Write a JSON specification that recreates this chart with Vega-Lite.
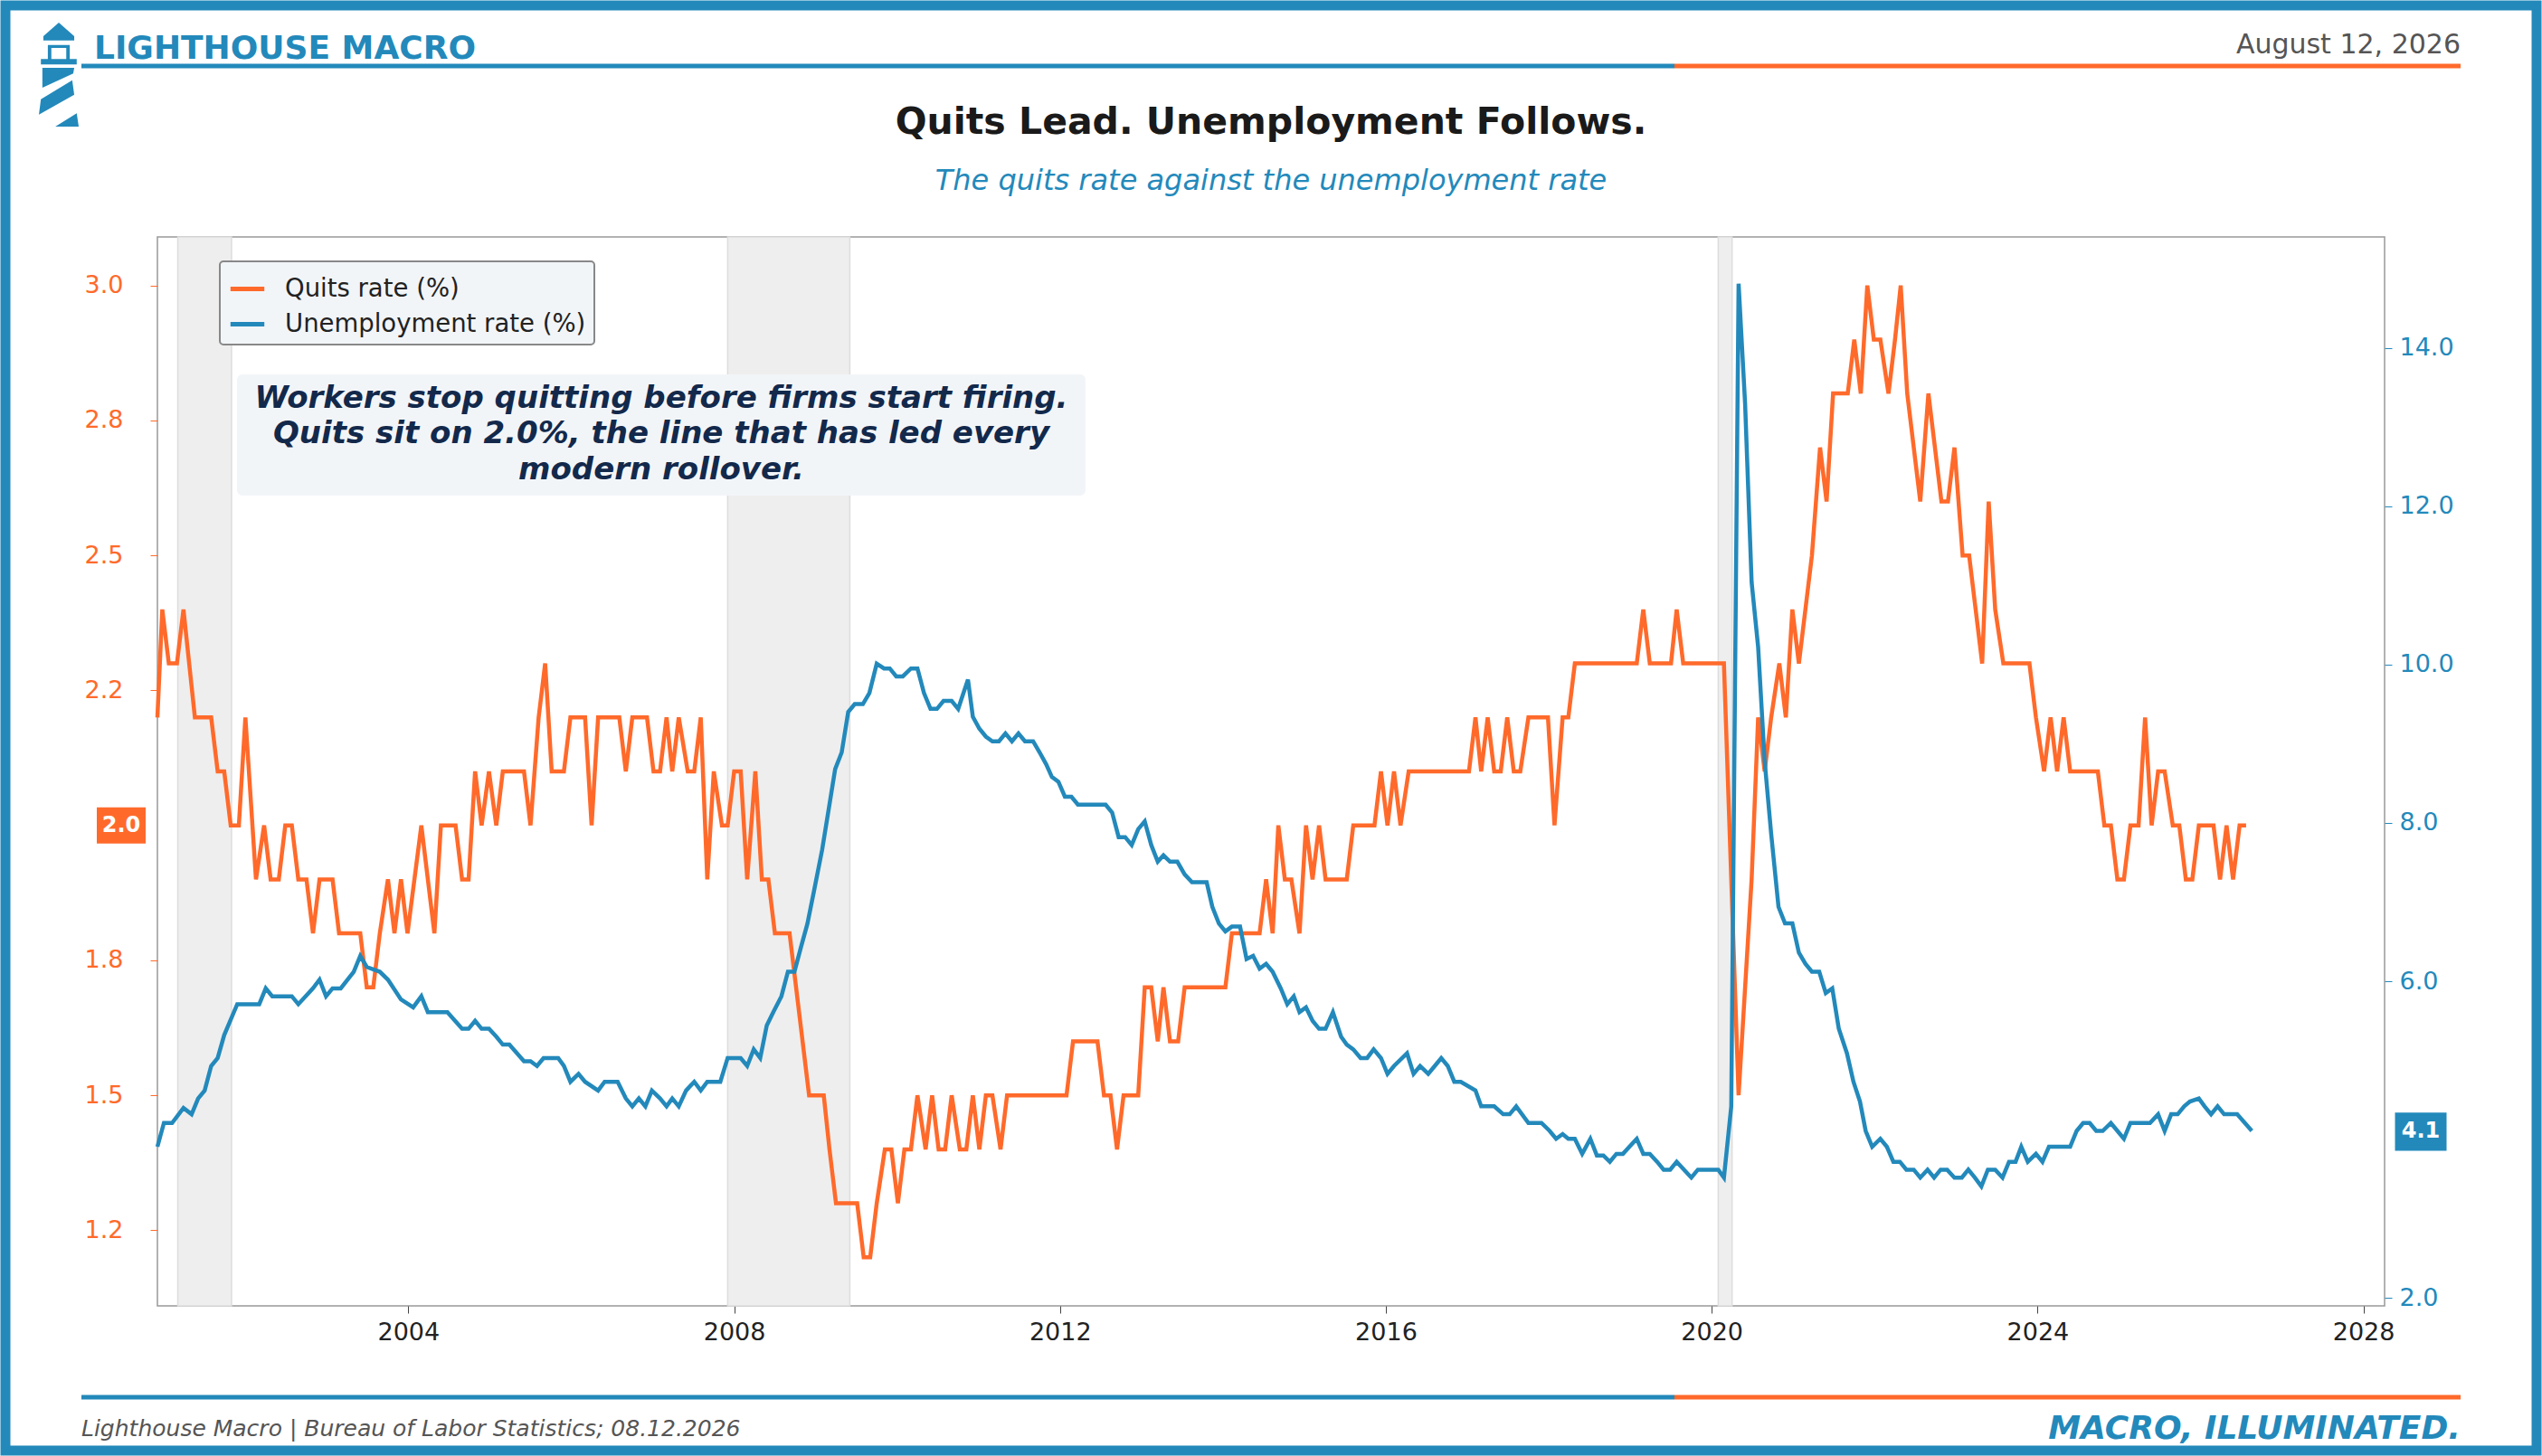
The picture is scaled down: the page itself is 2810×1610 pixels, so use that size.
{
  "$schema": "https://vega.github.io/schema/vega-lite/v6.json",
  "width": 2462,
  "height": 1182,
  "autosize": {"type": "none"},
  "padding": {"left": 174, "top": 262, "right": 174, "bottom": 166},
  "background": "white",
  "config": {
    "font": "DejaVu Sans",
    "view": {"stroke": "#999999", "strokeWidth": 1.5},
    "axis": {"grid": false, "domain": false, "labelFontSize": 27, "tickSize": 8, "labelPadding": 8},
    "legend": {
      "orient": "none", "legendX": 69, "legendY": 27, "fillColor": "#f2f5f8", "strokeColor": "#888888", "strokeWidth": 2,
      "padding": 9, "cornerRadius": 4, "labelFontSize": 27.5, "labelColor": "#222222", "labelLimit": 0, "labelOffset": 20,
      "symbolType": "stroke", "symbolStrokeWidth": 5, "symbolSize": 1400, "rowPadding": 4, "title": null
    }
  },
  "datasets": {
    "quits": [
      {"t":2000.92,"q":2.2},{"t":2000.98,"q":2.4},{"t":2001.06,"q":2.3},{"t":2001.16,"q":2.3},{"t":2001.24,"q":2.4},{"t":2001.38,"q":2.2},{"t":2001.58,"q":2.2},{"t":2001.66,"q":2.1},{"t":2001.74,"q":2.1},{"t":2001.82,"q":2.0},{"t":2001.92,"q":2.0},{"t":2002.00,"q":2.2},{"t":2002.13,"q":1.9},{"t":2002.23,"q":2.0},{"t":2002.31,"q":1.9},{"t":2002.41,"q":1.9},{"t":2002.49,"q":2.0},{"t":2002.57,"q":2.0},{"t":2002.65,"q":1.9},{"t":2002.75,"q":1.9},{"t":2002.83,"q":1.8},{"t":2002.91,"q":1.9},{"t":2003.07,"q":1.9},{"t":2003.15,"q":1.8},{"t":2003.41,"q":1.8},{"t":2003.49,"q":1.7},{"t":2003.57,"q":1.7},{"t":2003.65,"q":1.8},{"t":2003.75,"q":1.9},{"t":2003.83,"q":1.8},{"t":2003.91,"q":1.9},{"t":2003.99,"q":1.8},{"t":2004.16,"q":2.0},{"t":2004.32,"q":1.8},{"t":2004.40,"q":2.0},{"t":2004.58,"q":2.0},{"t":2004.66,"q":1.9},{"t":2004.74,"q":1.9},{"t":2004.82,"q":2.1},{"t":2004.90,"q":2.0},{"t":2004.99,"q":2.1},{"t":2005.08,"q":2.0},{"t":2005.16,"q":2.1},{"t":2005.42,"q":2.1},{"t":2005.50,"q":2.0},{"t":2005.60,"q":2.2},{"t":2005.68,"q":2.3},{"t":2005.76,"q":2.1},{"t":2005.91,"q":2.1},{"t":2005.99,"q":2.2},{"t":2006.17,"q":2.2},{"t":2006.25,"q":2.0},{"t":2006.33,"q":2.2},{"t":2006.59,"q":2.2},{"t":2006.67,"q":2.1},{"t":2006.75,"q":2.2},{"t":2006.93,"q":2.2},{"t":2007.01,"q":2.1},{"t":2007.09,"q":2.1},{"t":2007.17,"q":2.2},{"t":2007.24,"q":2.1},{"t":2007.32,"q":2.2},{"t":2007.43,"q":2.1},{"t":2007.51,"q":2.1},{"t":2007.59,"q":2.2},{"t":2007.67,"q":1.9},{"t":2007.75,"q":2.1},{"t":2007.85,"q":2.0},{"t":2007.92,"q":2.0},{"t":2008.00,"q":2.1},{"t":2008.08,"q":2.1},{"t":2008.16,"q":1.9},{"t":2008.26,"q":2.1},{"t":2008.34,"q":1.9},{"t":2008.42,"q":1.9},{"t":2008.50,"q":1.8},{"t":2008.68,"q":1.8},{"t":2008.76,"q":1.7},{"t":2008.84,"q":1.6},{"t":2008.92,"q":1.5},{"t":2009.10,"q":1.5},{"t":2009.17,"q":1.4},{"t":2009.25,"q":1.3},{"t":2009.51,"q":1.3},{"t":2009.59,"q":1.2},{"t":2009.67,"q":1.2},{"t":2009.75,"q":1.3},{"t":2009.85,"q":1.4},{"t":2009.93,"q":1.4},{"t":2010.01,"q":1.3},{"t":2010.09,"q":1.4},{"t":2010.17,"q":1.4},{"t":2010.25,"q":1.5},{"t":2010.35,"q":1.4},{"t":2010.43,"q":1.5},{"t":2010.51,"q":1.4},{"t":2010.59,"q":1.4},{"t":2010.67,"q":1.5},{"t":2010.77,"q":1.4},{"t":2010.85,"q":1.4},{"t":2010.93,"q":1.5},{"t":2011.01,"q":1.4},{"t":2011.09,"q":1.5},{"t":2011.17,"q":1.5},{"t":2011.27,"q":1.4},{"t":2011.35,"q":1.5},{"t":2012.08,"q":1.5},{"t":2012.16,"q":1.6},{"t":2012.46,"q":1.6},{"t":2012.54,"q":1.5},{"t":2012.62,"q":1.5},{"t":2012.70,"q":1.4},{"t":2012.78,"q":1.5},{"t":2012.96,"q":1.5},{"t":2013.04,"q":1.7},{"t":2013.12,"q":1.7},{"t":2013.20,"q":1.6},{"t":2013.27,"q":1.7},{"t":2013.35,"q":1.6},{"t":2013.45,"q":1.6},{"t":2013.53,"q":1.7},{"t":2014.03,"q":1.7},{"t":2014.11,"q":1.8},{"t":2014.45,"q":1.8},{"t":2014.53,"q":1.9},{"t":2014.61,"q":1.8},{"t":2014.68,"q":2.0},{"t":2014.76,"q":1.9},{"t":2014.84,"q":1.9},{"t":2014.94,"q":1.8},{"t":2015.02,"q":2.0},{"t":2015.10,"q":1.9},{"t":2015.18,"q":2.0},{"t":2015.26,"q":1.9},{"t":2015.52,"q":1.9},{"t":2015.60,"q":2.0},{"t":2015.86,"q":2.0},{"t":2015.94,"q":2.1},{"t":2016.02,"q":2.0},{"t":2016.10,"q":2.1},{"t":2016.18,"q":2.0},{"t":2016.28,"q":2.1},{"t":2017.02,"q":2.1},{"t":2017.10,"q":2.2},{"t":2017.17,"q":2.1},{"t":2017.25,"q":2.2},{"t":2017.33,"q":2.1},{"t":2017.41,"q":2.1},{"t":2017.49,"q":2.2},{"t":2017.57,"q":2.1},{"t":2017.65,"q":2.1},{"t":2017.75,"q":2.2},{"t":2017.99,"q":2.2},{"t":2018.07,"q":2.0},{"t":2018.17,"q":2.2},{"t":2018.24,"q":2.2},{"t":2018.32,"q":2.3},{"t":2019.08,"q":2.3},{"t":2019.16,"q":2.4},{"t":2019.24,"q":2.3},{"t":2019.50,"q":2.3},{"t":2019.57,"q":2.4},{"t":2019.65,"q":2.3},{"t":2020.15,"q":2.3},{"t":2020.33,"q":1.5},{"t":2020.41,"q":1.7},{"t":2020.49,"q":1.9},{"t":2020.57,"q":2.2},{"t":2020.65,"q":2.1},{"t":2020.73,"q":2.2},{"t":2020.83,"q":2.3},{"t":2020.91,"q":2.2},{"t":2020.99,"q":2.4},{"t":2021.07,"q":2.3},{"t":2021.15,"q":2.4},{"t":2021.23,"q":2.5},{"t":2021.33,"q":2.7},{"t":2021.41,"q":2.6},{"t":2021.49,"q":2.8},{"t":2021.57,"q":2.8},{"t":2021.67,"q":2.8},{"t":2021.75,"q":2.9},{"t":2021.83,"q":2.8},{"t":2021.91,"q":3.0},{"t":2021.99,"q":2.9},{"t":2022.07,"q":2.9},{"t":2022.17,"q":2.8},{"t":2022.25,"q":2.9},{"t":2022.32,"q":3.0},{"t":2022.40,"q":2.8},{"t":2022.48,"q":2.7},{"t":2022.56,"q":2.6},{"t":2022.66,"q":2.8},{"t":2022.74,"q":2.7},{"t":2022.82,"q":2.6},{"t":2022.90,"q":2.6},{"t":2022.98,"q":2.7},{"t":2023.08,"q":2.5},{"t":2023.16,"q":2.5},{"t":2023.24,"q":2.4},{"t":2023.32,"q":2.3},{"t":2023.40,"q":2.6},{"t":2023.48,"q":2.4},{"t":2023.58,"q":2.3},{"t":2023.90,"q":2.3},{"t":2023.98,"q":2.2},{"t":2024.08,"q":2.1},{"t":2024.16,"q":2.2},{"t":2024.24,"q":2.1},{"t":2024.32,"q":2.2},{"t":2024.40,"q":2.1},{"t":2024.74,"q":2.1},{"t":2024.82,"q":2.0},{"t":2024.90,"q":2.0},{"t":2024.98,"q":1.9},{"t":2025.06,"q":1.9},{"t":2025.14,"q":2.0},{"t":2025.24,"q":2.0},{"t":2025.32,"q":2.2},{"t":2025.40,"q":2.0},{"t":2025.48,"q":2.1},{"t":2025.56,"q":2.1},{"t":2025.66,"q":2.0},{"t":2025.74,"q":2.0},{"t":2025.82,"q":1.9},{"t":2025.90,"q":1.9},{"t":2025.98,"q":2.0},{"t":2026.16,"q":2.0},{"t":2026.24,"q":1.9},{"t":2026.32,"q":2.0},{"t":2026.40,"q":1.9},{"t":2026.48,"q":2.0},{"t":2026.56,"q":2.0}
    ],
    "unemp": [
      {"t":2000.92,"u":3.91},{"t":2001.00,"u":4.21},{"t":2001.10,"u":4.21},{"t":2001.24,"u":4.40},{"t":2001.34,"u":4.32},{"t":2001.42,"u":4.52},{"t":2001.50,"u":4.62},{"t":2001.58,"u":4.93},{"t":2001.66,"u":5.03},{"t":2001.74,"u":5.32},{"t":2001.90,"u":5.71},{"t":2002.17,"u":5.71},{"t":2002.25,"u":5.91},{"t":2002.33,"u":5.81},{"t":2002.57,"u":5.81},{"t":2002.65,"u":5.71},{"t":2002.83,"u":5.91},{"t":2002.91,"u":6.02},{"t":2002.99,"u":5.81},{"t":2003.07,"u":5.91},{"t":2003.17,"u":5.91},{"t":2003.33,"u":6.12},{"t":2003.41,"u":6.32},{"t":2003.49,"u":6.18},{"t":2003.65,"u":6.12},{"t":2003.75,"u":6.02},{"t":2003.91,"u":5.77},{"t":2004.06,"u":5.67},{"t":2004.16,"u":5.81},{"t":2004.24,"u":5.61},{"t":2004.48,"u":5.61},{"t":2004.66,"u":5.40},{"t":2004.74,"u":5.40},{"t":2004.82,"u":5.50},{"t":2004.90,"u":5.40},{"t":2004.99,"u":5.40},{"t":2005.08,"u":5.30},{"t":2005.16,"u":5.20},{"t":2005.24,"u":5.20},{"t":2005.42,"u":4.99},{"t":2005.50,"u":4.99},{"t":2005.58,"u":4.93},{"t":2005.66,"u":5.03},{"t":2005.84,"u":5.03},{"t":2005.91,"u":4.93},{"t":2005.99,"u":4.73},{"t":2006.09,"u":4.83},{"t":2006.17,"u":4.73},{"t":2006.33,"u":4.62},{"t":2006.41,"u":4.73},{"t":2006.57,"u":4.73},{"t":2006.67,"u":4.52},{"t":2006.75,"u":4.42},{"t":2006.83,"u":4.52},{"t":2006.91,"u":4.42},{"t":2006.99,"u":4.62},{"t":2007.09,"u":4.52},{"t":2007.17,"u":4.42},{"t":2007.24,"u":4.52},{"t":2007.32,"u":4.42},{"t":2007.41,"u":4.62},{"t":2007.51,"u":4.73},{"t":2007.59,"u":4.62},{"t":2007.67,"u":4.73},{"t":2007.83,"u":4.73},{"t":2007.92,"u":5.03},{"t":2008.08,"u":5.03},{"t":2008.16,"u":4.93},{"t":2008.24,"u":5.14},{"t":2008.32,"u":5.03},{"t":2008.40,"u":5.44},{"t":2008.48,"u":5.61},{"t":2008.58,"u":5.81},{"t":2008.66,"u":6.12},{"t":2008.74,"u":6.12},{"t":2008.82,"u":6.43},{"t":2008.90,"u":6.73},{"t":2008.98,"u":7.14},{"t":2009.08,"u":7.66},{"t":2009.16,"u":8.17},{"t":2009.24,"u":8.68},{"t":2009.32,"u":8.89},{"t":2009.40,"u":9.40},{"t":2009.48,"u":9.50},{"t":2009.58,"u":9.50},{"t":2009.66,"u":9.64},{"t":2009.75,"u":10.01},{"t":2009.84,"u":9.95},{"t":2009.91,"u":9.95},{"t":2009.99,"u":9.85},{"t":2010.07,"u":9.85},{"t":2010.17,"u":9.95},{"t":2010.25,"u":9.95},{"t":2010.33,"u":9.64},{"t":2010.41,"u":9.44},{"t":2010.49,"u":9.44},{"t":2010.57,"u":9.54},{"t":2010.67,"u":9.54},{"t":2010.75,"u":9.44},{"t":2010.87,"u":9.81},{"t":2010.93,"u":9.34},{"t":2011.01,"u":9.19},{"t":2011.09,"u":9.09},{"t":2011.17,"u":9.03},{"t":2011.25,"u":9.03},{"t":2011.33,"u":9.13},{"t":2011.41,"u":9.03},{"t":2011.49,"u":9.13},{"t":2011.57,"u":9.03},{"t":2011.67,"u":9.03},{"t":2011.75,"u":8.89},{"t":2011.83,"u":8.74},{"t":2011.90,"u":8.58},{"t":2011.98,"u":8.52},{"t":2012.06,"u":8.33},{"t":2012.14,"u":8.33},{"t":2012.22,"u":8.23},{"t":2012.32,"u":8.23},{"t":2012.56,"u":8.23},{"t":2012.64,"u":8.13},{"t":2012.72,"u":7.82},{"t":2012.80,"u":7.82},{"t":2012.88,"u":7.72},{"t":2012.96,"u":7.92},{"t":2013.04,"u":8.02},{"t":2013.12,"u":7.72},{"t":2013.20,"u":7.51},{"t":2013.27,"u":7.59},{"t":2013.35,"u":7.51},{"t":2013.44,"u":7.51},{"t":2013.53,"u":7.35},{"t":2013.62,"u":7.25},{"t":2013.80,"u":7.25},{"t":2013.87,"u":6.94},{"t":2013.95,"u":6.73},{"t":2014.03,"u":6.63},{"t":2014.11,"u":6.69},{"t":2014.21,"u":6.69},{"t":2014.29,"u":6.28},{"t":2014.37,"u":6.32},{"t":2014.45,"u":6.16},{"t":2014.53,"u":6.22},{"t":2014.61,"u":6.12},{"t":2014.71,"u":5.91},{"t":2014.79,"u":5.71},{"t":2014.87,"u":5.81},{"t":2014.94,"u":5.61},{"t":2015.02,"u":5.67},{"t":2015.10,"u":5.50},{"t":2015.18,"u":5.40},{"t":2015.26,"u":5.40},{"t":2015.35,"u":5.61},{"t":2015.45,"u":5.30},{"t":2015.52,"u":5.20},{"t":2015.60,"u":5.14},{"t":2015.69,"u":5.03},{"t":2015.77,"u":5.03},{"t":2015.85,"u":5.14},{"t":2015.94,"u":5.03},{"t":2016.02,"u":4.83},{"t":2016.10,"u":4.93},{"t":2016.26,"u":5.09},{"t":2016.34,"u":4.83},{"t":2016.42,"u":4.93},{"t":2016.52,"u":4.83},{"t":2016.60,"u":4.93},{"t":2016.68,"u":5.03},{"t":2016.76,"u":4.93},{"t":2016.84,"u":4.73},{"t":2016.92,"u":4.73},{"t":2017.10,"u":4.62},{"t":2017.17,"u":4.42},{"t":2017.33,"u":4.42},{"t":2017.44,"u":4.32},{"t":2017.52,"u":4.32},{"t":2017.60,"u":4.42},{"t":2017.75,"u":4.21},{"t":2017.91,"u":4.21},{"t":2018.01,"u":4.11},{"t":2018.09,"u":4.01},{"t":2018.17,"u":4.07},{"t":2018.24,"u":4.01},{"t":2018.32,"u":4.01},{"t":2018.41,"u":3.82},{"t":2018.51,"u":4.01},{"t":2018.59,"u":3.80},{"t":2018.67,"u":3.80},{"t":2018.75,"u":3.72},{"t":2018.83,"u":3.82},{"t":2018.91,"u":3.82},{"t":2018.99,"u":3.91},{"t":2019.08,"u":4.01},{"t":2019.16,"u":3.82},{"t":2019.24,"u":3.82},{"t":2019.33,"u":3.72},{"t":2019.41,"u":3.62},{"t":2019.49,"u":3.62},{"t":2019.57,"u":3.72},{"t":2019.75,"u":3.52},{"t":2019.83,"u":3.62},{"t":2020.08,"u":3.62},{"t":2020.15,"u":3.52},{"t":2020.24,"u":4.42},{"t":2020.33,"u":14.81},{"t":2020.41,"u":13.29},{"t":2020.49,"u":11.04},{"t":2020.57,"u":10.22},{"t":2020.65,"u":8.78},{"t":2020.73,"u":7.86},{"t":2020.82,"u":6.94},{"t":2020.90,"u":6.73},{"t":2020.99,"u":6.73},{"t":2021.07,"u":6.36},{"t":2021.15,"u":6.22},{"t":2021.23,"u":6.12},{"t":2021.32,"u":6.12},{"t":2021.40,"u":5.85},{"t":2021.48,"u":5.91},{"t":2021.56,"u":5.40},{"t":2021.66,"u":5.09},{"t":2021.74,"u":4.73},{"t":2021.82,"u":4.48},{"t":2021.89,"u":4.11},{"t":2021.97,"u":3.91},{"t":2022.07,"u":4.01},{"t":2022.15,"u":3.91},{"t":2022.23,"u":3.72},{"t":2022.31,"u":3.72},{"t":2022.39,"u":3.62},{"t":2022.48,"u":3.62},{"t":2022.56,"u":3.52},{"t":2022.65,"u":3.62},{"t":2022.73,"u":3.52},{"t":2022.81,"u":3.62},{"t":2022.89,"u":3.62},{"t":2022.98,"u":3.52},{"t":2023.07,"u":3.52},{"t":2023.15,"u":3.62},{"t":2023.23,"u":3.52},{"t":2023.31,"u":3.41},{"t":2023.39,"u":3.62},{"t":2023.48,"u":3.62},{"t":2023.57,"u":3.52},{"t":2023.65,"u":3.72},{"t":2023.73,"u":3.72},{"t":2023.80,"u":3.91},{"t":2023.88,"u":3.72},{"t":2023.98,"u":3.82},{"t":2024.06,"u":3.72},{"t":2024.14,"u":3.91},{"t":2024.22,"u":3.91},{"t":2024.40,"u":3.91},{"t":2024.48,"u":4.11},{"t":2024.56,"u":4.21},{"t":2024.64,"u":4.21},{"t":2024.72,"u":4.11},{"t":2024.80,"u":4.11},{"t":2024.90,"u":4.21},{"t":2024.98,"u":4.11},{"t":2025.06,"u":4.01},{"t":2025.14,"u":4.21},{"t":2025.30,"u":4.21},{"t":2025.38,"u":4.21},{"t":2025.48,"u":4.32},{"t":2025.56,"u":4.11},{"t":2025.64,"u":4.32},{"t":2025.72,"u":4.32},{"t":2025.80,"u":4.42},{"t":2025.87,"u":4.48},{"t":2025.98,"u":4.52},{"t":2026.05,"u":4.42},{"t":2026.13,"u":4.32},{"t":2026.21,"u":4.42},{"t":2026.29,"u":4.32},{"t":2026.45,"u":4.32},{"t":2026.63,"u":4.11}
    ],
    "recessions": [
      {"start": 2001.17, "end": 2001.83},
      {"start": 2007.92, "end": 2009.42},
      {"start": 2020.08, "end": 2020.25}
    ]
  },
  "layer": [
    {
      "layer": [
        {
          "data": {"name": "recessions"},
          "mark": {"type": "rect", "fill": "#eeeeee", "stroke": "#dddddd", "strokeWidth": 1.5},
          "encoding": {
            "x": {"field": "start", "type": "quantitative"},
            "x2": {"field": "end"}
          }
        },
        {
          "data": {"name": "quits"},
          "mark": {"type": "line", "strokeWidth": 4.5, "interpolate": "linear"},
          "encoding": {
            "x": {"field": "t", "type": "quantitative", "title": null,
              "scale": {"domain": [2000.92, 2028.26], "nice": false, "zero": false},
              "axis": {"values": [2004, 2008, 2012, 2016, 2020, 2024, 2028], "format": "d", "labelColor": "#222222", "tickColor": "#444444"}},
            "y": {"field": "q", "type": "quantitative", "title": null,
              "scale": {"domain": [1.11, 3.09], "nice": false, "zero": false},
              "axis": {"orient": "left", "values": [1.25, 1.5, 1.75, 2.25, 2.5, 2.75, 3.0],
                "labelExpr": "datum.value == 2.25 ? '2.2' : datum.value == 1.25 ? '1.2' : format(datum.value, '.1f')",
                "labelColor": "#ff6a2b", "tickColor": "#ff6a2b", "labelPadding": 30}},
            "color": {"datum": "Quits rate (%)", "type": "nominal",
              "scale": {"domain": ["Quits rate (%)", "Unemployment rate (%)"], "range": ["#ff6a2b", "#2389bb"]}}
          }
        },
        {
          "data": {"values": [{"v": 2.0, "label": "2.0"}]},
          "layer": [
            {"mark": {"type": "point", "shape": "M-1,-0.74L1,-0.74L1,0.74L-1,0.74Z", "size": 2916, "filled": true, "color": "#ff6a2b", "opacity": 1, "x": -40},
             "encoding": {"y": {"field": "v", "type": "quantitative"}}},
            {"mark": {"type": "text", "color": "white", "fontWeight": "bold", "fontSize": 24, "x": -40},
             "encoding": {"y": {"field": "v", "type": "quantitative"}, "text": {"field": "label"}}}
          ]
        },
        {
          "data": {"values": [{}]},
          "layer": [
            {"mark": {"type": "rect", "fill": "#f2f5f8", "cornerRadius": 6},
             "encoding": {"x": {"value": 88}, "x2": {"value": 1026}, "y": {"value": 152}, "y2": {"value": 286}}},
            {"mark": {"type": "text", "x": 557, "y": 179, "text": "Workers stop quitting before firms start firing.", "fontSize": 34, "fontWeight": "bold", "fontStyle": "italic", "color": "#13294b"}, "encoding": {}},
            {"mark": {"type": "text", "x": 557, "y": 218, "text": "Quits sit on 2.0%, the line that has led every", "fontSize": 34, "fontWeight": "bold", "fontStyle": "italic", "color": "#13294b"}, "encoding": {}},
            {"mark": {"type": "text", "x": 557, "y": 258, "text": "modern rollover.", "fontSize": 34, "fontWeight": "bold", "fontStyle": "italic", "color": "#13294b"}, "encoding": {}},
            {"mark": {"type": "point", "filled": true, "opacity": 1, "color": "#2389bb", "size": 12100,
              "shape": "M-0.31,-0.82L0,-1.09L0.31,-0.82L0.31,-0.73L-0.31,-0.73Z M-0.22,-0.64H-0.15V-0.36H-0.22Z M0.15,-0.64H0.22V-0.36H0.15Z M-0.22,-0.64H0.22V-0.58H-0.22Z M-0.36,-0.36H0.36V-0.25H-0.36Z M-0.33,-0.18L0.31,-0.18L0.29,-0.07L-0.33,0.22Z M-0.36,0.45L0.27,0.07L0.31,0.36L-0.4,0.76Z M-0.07,1.0L0.36,0.73L0.4,1.0Z"},
             "encoding": {"x": {"value": -109}, "y": {"value": -177}}},
            {"mark": {"type": "text", "x": -70, "y": -208, "align": "left", "text": "LIGHTHOUSE MACRO", "fontSize": 36, "fontWeight": "bold", "color": "#2389bb"}, "encoding": {}},
            {"mark": {"type": "text", "x": 2546, "y": -212, "align": "right", "text": "August 12, 2026", "fontSize": 30, "color": "#555555"}, "encoding": {}},
            {"mark": {"type": "text", "x": 1231, "y": -126, "text": "Quits Lead. Unemployment Follows.", "fontSize": 41, "fontWeight": "bold", "color": "#1a1a1a"}, "encoding": {}},
            {"mark": {"type": "text", "x": 1231, "y": -62, "text": "The quits rate against the unemployment rate", "fontSize": 32, "fontStyle": "italic", "color": "#2389bb"}, "encoding": {}},
            {"mark": {"type": "rule", "stroke": "#2389bb", "strokeWidth": 5}, "encoding": {"x": {"value": -84}, "x2": {"value": 1677}, "y": {"value": -189}}},
            {"mark": {"type": "rule", "stroke": "#ff6a2b", "strokeWidth": 5}, "encoding": {"x": {"value": 1677}, "x2": {"value": 2546}, "y": {"value": -189}}},
            {"mark": {"type": "rule", "stroke": "#2389bb", "strokeWidth": 5}, "encoding": {"x": {"value": -84}, "x2": {"value": 1677}, "y": {"value": 1283}}},
            {"mark": {"type": "rule", "stroke": "#ff6a2b", "strokeWidth": 5}, "encoding": {"x": {"value": 1677}, "x2": {"value": 2546}, "y": {"value": 1283}}},
            {"mark": {"type": "text", "x": -84, "y": 1318, "align": "left", "text": "Lighthouse Macro | Bureau of Labor Statistics; 08.12.2026", "fontSize": 25, "fontStyle": "italic", "color": "#555555"}, "encoding": {}},
            {"mark": {"type": "text", "x": 2546, "y": 1318, "align": "right", "text": "MACRO, ILLUMINATED.", "fontSize": 36, "fontWeight": "bold", "fontStyle": "italic", "color": "#2389bb"}, "encoding": {}},
            {"mark": {"type": "rect", "fill": null, "stroke": "#2389bb", "strokeWidth": 11},
             "encoding": {"x": {"value": -168}, "x2": {"value": 2630}, "y": {"value": -256}, "y2": {"value": 1342}}}
          ]
        }
      ]
    },
    {
      "layer": [
        {
          "data": {"name": "unemp"},
          "mark": {"type": "line", "strokeWidth": 4.5},
          "encoding": {
            "x": {"field": "t", "type": "quantitative"},
            "y": {"field": "u", "type": "quantitative", "title": null,
              "scale": {"domain": [1.9, 15.4], "nice": false, "zero": false},
              "axis": {"orient": "right", "values": [2, 6, 8, 10, 12, 14], "format": ".1f", "labelColor": "#2389bb", "tickColor": "#2389bb"}},
            "color": {"datum": "Unemployment rate (%)", "type": "nominal"}
          }
        },
        {
          "data": {"values": [{"v": 4.1, "label": "4.1"}]},
          "layer": [
            {"mark": {"type": "point", "shape": "M-1,-0.74L1,-0.74L1,0.74L-1,0.74Z", "size": 3249, "filled": true, "color": "#2389bb", "opacity": 1, "x": 2502},
             "encoding": {"y": {"field": "v", "type": "quantitative"}}},
            {"mark": {"type": "text", "color": "white", "fontWeight": "bold", "fontSize": 24, "x": 2502},
             "encoding": {"y": {"field": "v", "type": "quantitative"}, "text": {"field": "label"}}}
          ]
        }
      ]
    }
  ],
  "resolve": {"scale": {"y": "independent"}}
}
